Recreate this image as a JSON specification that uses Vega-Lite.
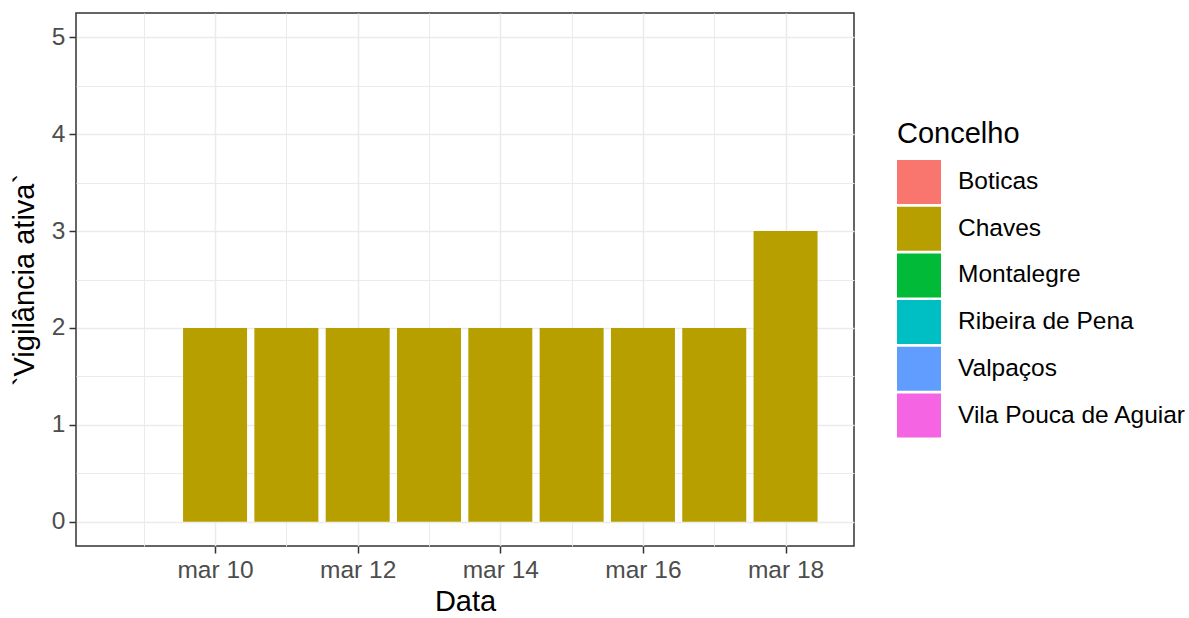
{
  "$schema": "https://vega.github.io/schema/vega-lite/v6.json",
  "width": 778,
  "height": 533,
  "autosize": "none",
  "padding": {"left": 76, "top": 13, "right": 335, "bottom": 72},
  "background": "white",
  "config": {
    "font": "Liberation Sans",
    "view": {"stroke": "#333333", "strokeWidth": 1.5},
    "axis": {
      "domain": false,
      "gridColor": "#EBEBEB",
      "tickColor": "#333333",
      "tickWidth": 1.5,
      "tickSize": 7,
      "labelFontSize": 24.5,
      "labelColor": "#4D4D4D",
      "titleFontSize": 29,
      "titleFontWeight": "normal",
      "titleColor": "#000000"
    }
  },
  "data": {
    "values": [
      {"Data": "2020-03-10", "Concelho": "Chaves", "Vigilancia": 2},
      {"Data": "2020-03-11", "Concelho": "Chaves", "Vigilancia": 2},
      {"Data": "2020-03-12", "Concelho": "Chaves", "Vigilancia": 2},
      {"Data": "2020-03-13", "Concelho": "Chaves", "Vigilancia": 2},
      {"Data": "2020-03-14", "Concelho": "Chaves", "Vigilancia": 2},
      {"Data": "2020-03-15", "Concelho": "Chaves", "Vigilancia": 2},
      {"Data": "2020-03-16", "Concelho": "Chaves", "Vigilancia": 2},
      {"Data": "2020-03-17", "Concelho": "Chaves", "Vigilancia": 2},
      {"Data": "2020-03-18", "Concelho": "Chaves", "Vigilancia": 3}
    ]
  },
  "layer": [
    {
      "mark": {"type": "point", "opacity": 0},
      "encoding": {
        "x": {
          "field": "Data",
          "type": "temporal",
          "scale": {
            "type": "utc",
            "domain": [
              {"year": 2020, "month": 3, "date": 8, "hours": 1, "minutes": 12, "utc": true},
              {"year": 2020, "month": 3, "date": 18, "hours": 23, "minutes": 2, "utc": true}
            ],
            "nice": false,
            "padding": 0
          },
          "axis": {
            "orient": "bottom",
            "values": [
              {"year": 2020, "month": 3, "date": 9, "utc": true},
              {"year": 2020, "month": 3, "date": 11, "utc": true},
              {"year": 2020, "month": 3, "date": 13, "utc": true},
              {"year": 2020, "month": 3, "date": 15, "utc": true},
              {"year": 2020, "month": 3, "date": 17, "utc": true}
            ],
            "grid": true,
            "gridWidth": 1,
            "ticks": false,
            "labels": false,
            "title": null
          }
        },
        "y": {
          "field": "Vigilancia",
          "type": "quantitative",
          "scale": {"domain": [-0.25, 5.25], "nice": false, "zero": false, "padding": 0},
          "axis": {
            "orient": "left",
            "values": [0.5, 1.5, 2.5, 3.5, 4.5],
            "grid": true,
            "gridWidth": 1,
            "ticks": false,
            "labels": false,
            "title": null
          }
        }
      }
    },
    {
      "mark": {"type": "bar", "size": 64},
      "encoding": {
        "x": {
          "field": "Data",
          "type": "temporal",
          "scale": {
            "type": "utc",
            "domain": [
              {"year": 2020, "month": 3, "date": 8, "hours": 1, "minutes": 12, "utc": true},
              {"year": 2020, "month": 3, "date": 18, "hours": 23, "minutes": 2, "utc": true}
            ],
            "nice": false,
            "padding": 0
          },
          "axis": {
            "orient": "bottom",
            "values": [
              {"year": 2020, "month": 3, "date": 10, "utc": true},
              {"year": 2020, "month": 3, "date": 12, "utc": true},
              {"year": 2020, "month": 3, "date": 14, "utc": true},
              {"year": 2020, "month": 3, "date": 16, "utc": true},
              {"year": 2020, "month": 3, "date": 18, "utc": true}
            ],
            "labelExpr": "'mar ' + utcFormat(datum.value, '%d')",
            "grid": true,
            "gridWidth": 1.5,
            "labelPadding": 5,
            "title": "Data",
            "titlePadding": 6
          }
        },
        "y": {
          "field": "Vigilancia",
          "type": "quantitative",
          "scale": {"domain": [-0.25, 5.25], "nice": false, "zero": false, "padding": 0},
          "axis": {
            "orient": "left",
            "values": [0, 1, 2, 3, 4, 5],
            "grid": true,
            "gridWidth": 1.5,
            "labelPadding": 4,
            "title": "`Vigilância ativa`",
            "titlePadding": 12
          }
        },
        "y2": {"datum": 0},
        "color": {
          "field": "Concelho",
          "type": "nominal",
          "scale": {
            "domain": ["Boticas", "Chaves", "Montalegre", "Ribeira de Pena", "Valpaços", "Vila Pouca de Aguiar"],
            "range": ["#F8766D", "#B79F00", "#00BA38", "#00BFC4", "#619CFF", "#F564E3"]
          },
          "legend": {
            "orient": "none",
            "legendX": 821,
            "legendY": 107,
            "padding": 0,
            "title": "Concelho",
            "titleFontSize": 29,
            "titleFontWeight": "normal",
            "titleColor": "#000000",
            "titlePadding": 11,
            "labelFontSize": 24.5,
            "labelColor": "#000000",
            "labelOffset": 17,
            "labelLimit": 0,
            "symbolType": "square",
            "symbolSize": 1936,
            "symbolStrokeWidth": 0,
            "symbolOpacity": 1,
            "rowPadding": 2.7
          }
        }
      }
    }
  ],
  "resolve": {"axis": {"x": "independent", "y": "independent"}}
}
